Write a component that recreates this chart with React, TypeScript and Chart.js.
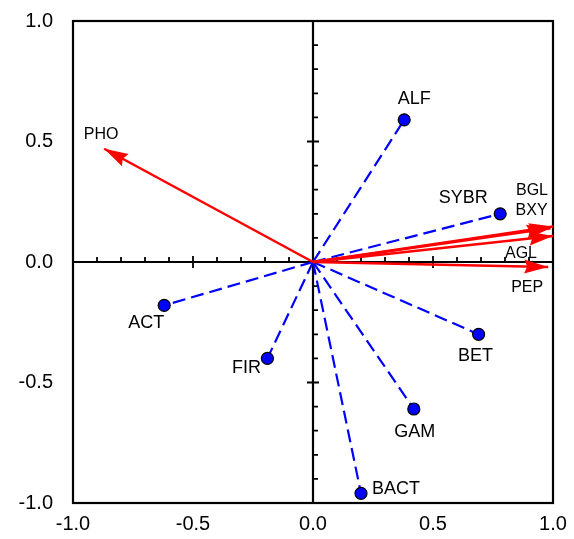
import React, { useEffect, useRef } from "react";
import { Chart, registerables } from "chart.js";
Chart.register(...registerables);

// Site scores (blue points)
const pointLabels = ["ALF", "SYBR", "ACT", "FIR", "BET", "GAM", "BACT"];
const pointX = [0.38, 0.78, -0.62, -0.19, 0.69, 0.42, 0.2];
const pointY = [0.59, 0.2, -0.18, -0.4, -0.3, -0.61, -0.96];

// Environmental vectors (red arrows)
const arrowLabels = ["PHO", "BGL", "BXY", "AGL", "PEP"];
const arrowX = [-0.87, 1.0, 0.99, 1.0, 0.98];
const arrowY = [0.47, 0.147, 0.14, 0.108, -0.021];

const axisTicks = [-1.0, -0.5, 0.0, 0.5, 1.0];

// label placement (pixel offsets of text centre from the mark)
const pointLabelOffset: Record<string, [number, number]> = {
  ALF: [10, -21],
  SYBR: [-37, -16],
  ACT: [-18, 18],
  FIR: [-21, 10],
  BET: [-3, 22],
  GAM: [1, 23],
  BACT: [35, -4],
};
const arrowLabelOffset: Record<string, [number, number]> = {
  PHO: [-3, -14],
  BGL: [-21, -36],
  BXY: [-19, -18],
  AGL: [-32, 18],
  PEP: [-21, 21],
};

const FONT = "'Liberation Sans', Arial, sans-serif";

const overlay = {
  id: "overlay",
  beforeDatasetsDraw(chart: any) {
    const { ctx, chartArea: a, scales } = chart;
    const xs = scales.x;
    const ys = scales.y;
    const x0 = xs.getPixelForValue(0);
    const y0 = ys.getPixelForValue(0);
    ctx.save();
    ctx.strokeStyle = "#000";
    ctx.lineWidth = 2.2;
    ctx.strokeRect(a.left, a.top, a.right - a.left, a.bottom - a.top);
    ctx.beginPath();
    ctx.moveTo(a.left, y0);
    ctx.lineTo(a.right, y0);
    ctx.moveTo(x0, a.top);
    ctx.lineTo(x0, a.bottom);
    ctx.stroke();
    ctx.lineWidth = 1.8;
    ctx.beginPath();
    for (let i = -9; i <= 9; i++) {
      if (i === 0) continue;
      const v = i / 10;
      const major = i % 5 === 0;
      const px = xs.getPixelForValue(v);
      const py = ys.getPixelForValue(v);
      if (major) {
        ctx.moveTo(px, y0 - 6);
        ctx.lineTo(px, y0 + 6);
        ctx.moveTo(x0 - 6, py);
        ctx.lineTo(x0 + 6, py);
      } else {
        ctx.moveTo(px, y0);
        ctx.lineTo(px, y0 - 5);
        ctx.moveTo(x0, py);
        ctx.lineTo(x0 + 5, py);
      }
    }
    ctx.stroke();
    ctx.restore();
  },
  afterDatasetsDraw(chart: any) {
    const { ctx, scales } = chart;
    const xs = scales.x;
    const ys = scales.y;
    const x0 = xs.getPixelForValue(0);
    const y0 = ys.getPixelForValue(0);
    ctx.save();
    // arrow heads
    ctx.fillStyle = "#ff0000";
    arrowLabels.forEach((lab, i) => {
      const tx = xs.getPixelForValue(arrowX[i]);
      const ty = ys.getPixelForValue(arrowY[i]);
      const ang = Math.atan2(ty - y0, tx - x0);
      const L = 24;
      const W = 7;
      const bx = tx - L * Math.cos(ang);
      const by = ty - L * Math.sin(ang);
      ctx.beginPath();
      ctx.moveTo(tx, ty);
      ctx.lineTo(bx + W * Math.sin(ang), by - W * Math.cos(ang));
      ctx.lineTo(tx - (L - 3) * Math.cos(ang), ty - (L - 3) * Math.sin(ang));
      ctx.lineTo(bx - W * Math.sin(ang), by + W * Math.cos(ang));
      ctx.closePath();
      ctx.fill();
    });
    // labels
    ctx.fillStyle = "#000";
    ctx.textAlign = "center";
    ctx.textBaseline = "middle";
    ctx.font = `18px ${FONT}`;
    pointLabels.forEach((lab, i) => {
      const [dx, dy] = pointLabelOffset[lab];
      ctx.fillText(lab, xs.getPixelForValue(pointX[i]) + dx, ys.getPixelForValue(pointY[i]) + dy);
    });
    ctx.font = `16px ${FONT}`;
    arrowLabels.forEach((lab, i) => {
      const [dx, dy] = arrowLabelOffset[lab];
      ctx.fillText(lab, xs.getPixelForValue(arrowX[i]) + dx, ys.getPixelForValue(arrowY[i]) + dy);
    });
    ctx.restore();
  },
};

export default function App() {
  const ref = useRef<HTMLCanvasElement>(null);
  useEffect(() => {
    if (!ref.current) return;
    const datasets: any[] = [];
    arrowLabels.forEach((lab, i) => {
      datasets.push({
        type: "line",
        label: lab,
        data: [
          { x: 0, y: 0 },
          { x: arrowX[i], y: arrowY[i] },
        ],
        borderColor: "#ff0000",
        borderWidth: 2.5,
        pointRadius: 0,
        fill: false,
      });
    });
    pointLabels.forEach((lab, i) => {
      datasets.push({
        type: "line",
        label: lab,
        data: [
          { x: 0, y: 0 },
          { x: pointX[i], y: pointY[i] },
        ],
        borderColor: "#0000ff",
        borderWidth: 2.2,
        borderDash: [13, 6],
        pointRadius: [0, 6],
        pointBackgroundColor: "#0000ff",
        pointBorderColor: "#000",
        pointBorderWidth: 1.2,
        fill: false,
      });
    });
    const tickFont = { family: FONT, size: 20 };
    const chart = new Chart(ref.current, {
      type: "scatter",
      data: { datasets },
      plugins: [overlay],
      options: {
        animation: false,
        responsive: false,
        maintainAspectRatio: false,
        layout: { padding: { top: 21, right: 21, left: 0, bottom: 0 } },
        plugins: { legend: { display: false }, tooltip: { enabled: false } },
        scales: {
          x: {
            type: "linear",
            min: -1,
            max: 1,
            afterBuildTicks: (s: any) => {
              s.ticks = axisTicks.map((v) => ({ value: v }));
            },
            afterFit: (s: any) => {
              s.height = 36;
              s.paddingLeft = 0;
              s.paddingRight = 0;
            },
            grid: { display: false, drawTicks: false },
            border: { display: false },
            ticks: {
              color: "#000",
              font: tickFont,
              padding: 9,
              maxRotation: 0,
              callback: (v: any) => Number(v).toFixed(1),
            },
          },
          y: {
            type: "linear",
            min: -1,
            max: 1,
            afterBuildTicks: (s: any) => {
              s.ticks = axisTicks.map((v) => ({ value: v }));
            },
            afterFit: (s: any) => {
              s.width = 73;
              s.paddingTop = 0;
              s.paddingBottom = 0;
            },
            grid: { display: false, drawTicks: false },
            border: { display: false },
            ticks: {
              color: "#000",
              font: tickFont,
              padding: 20,
              callback: (v: any) => Number(v).toFixed(1),
            },
          },
        },
      } as any,
    });
    return () => chart.destroy();
  }, []);
  return (
    <div style={{ position: "absolute", left: 0, top: 0, width: 574, height: 539, background: "#fff" }}>
      <canvas ref={ref} width={574} height={539} style={{ width: 574, height: 539, display: "block" }} />
    </div>
  );
}
